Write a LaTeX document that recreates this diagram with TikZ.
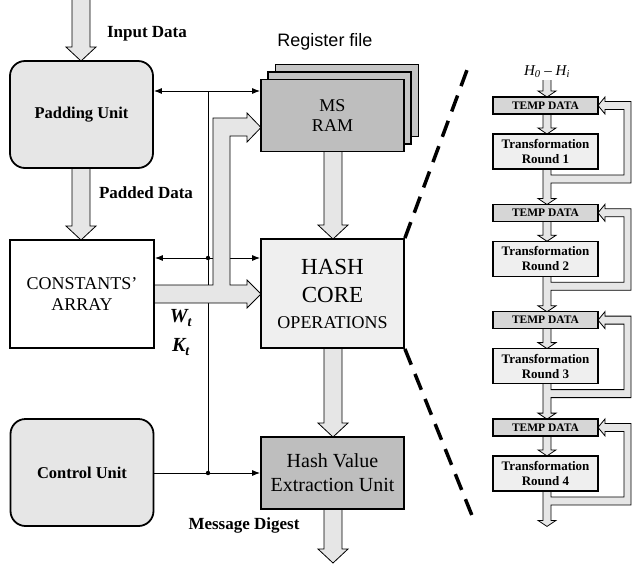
\documentclass[tikz,border=0pt]{standalone}
\usepackage{fontspec}
\setmainfont{Liberation Serif}
\newfontfamily\arialf{Liberation Sans}
\usetikzlibrary{arrows.meta}
\definecolor{lightfill}{HTML}{E6E6E6}
\definecolor{hashfill}{HTML}{EFEFEF}
\definecolor{darkfill}{HTML}{BEBEBE}
\definecolor{tempfill}{HTML}{D6D6D6}
\pgfdeclarelayer{bg}
\pgfsetlayers{bg,main}
\newcommand\vblock[6]{% x, ystart, ytip, half shaft, half head, head length
  \filldraw[blk] (#1-#4,#2) -- (#1-#4,#3-#6) -- (#1-#5,#3-#6) -- (#1,#3) -- (#1+#5,#3-#6) -- (#1+#4,#3-#6) -- (#1+#4,#2);}
\begin{document}
\begin{tikzpicture}[x=1pt,y=-1pt,
  box/.style={draw,line width=1.8pt,inner sep=0pt,align=center},
  rbox/.style={box,rounded corners=15pt,fill=lightfill,minimum width=143pt,minimum height=107pt,font=\bfseries\fontsize{16.5}{18}\selectfont},
  blk/.style={draw=black,fill=lightfill,line width=0.8pt,line join=miter},
  thin/.style={line width=0.9pt},
  tip/.style={-{Latex[length=8pt,width=6pt]}},
  lbl/.style={font=\bfseries\fontsize{17}{18}\selectfont,inner sep=0pt},
  tbox/.style={box,line width=1.6pt,fill=tempfill,minimum width=105pt,minimum height=17pt,font=\bfseries\fontsize{11.5}{12}\selectfont},
  trbox/.style={box,line width=1.6pt,fill=hashfill,minimum width=105pt,minimum height=35pt,font=\bfseries\fontsize{13}{15}\selectfont},
  dashline/.style={line width=3.5pt,dash pattern=on 17pt off 10pt}]
\useasboundingbox (0,0) rectangle (632,563);

% ---- left part boxes ----
\node[rbox] (pad) at (81.5,114.5) {Padding Unit};
\node[box,fill=white,minimum width=144pt,minimum height=108pt,font=\fontsize{18}{21}\selectfont] (const) at (82,294) {CONSTANTS'\\ARRAY};
\node[rbox] (ctrl) at (82,472.5) {Control Unit};

\node[box,fill=darkfill!90!white,minimum width=143pt,minimum height=72pt] (ram3) at (347,100.5) {};
\node[box,fill=darkfill!90!white,minimum width=143pt,minimum height=72pt] (ram2) at (339.5,108) {};
\node[box,fill=darkfill,minimum width=143pt,minimum height=72pt,font=\fontsize{18}{20}\selectfont] (ram) at (332.5,115.5) {MS\\RAM};
\node[box,fill=hashfill,minimum width=143pt,minimum height=109pt,font=\fontsize{23}{28}\selectfont] (hash) at (332.5,293.5)
  {HASH\\CORE\\[-2pt]{\fontsize{18}{20}\selectfont OPERATIONS}};
\node[box,fill=darkfill,minimum width=143pt,minimum height=72pt,font=\fontsize{20}{24}\selectfont] (hve) at (332.5,473) {Hash Value\\Extraction Unit};

% ---- labels ----
\node[lbl] (lin) at (147,34) {Input Data};
\node[lbl] (lpad) at (146,193) {Padded Data};
\node[lbl] (lmd) at (244,525) {Message Digest};
\node[inner sep=0pt,font=\arialf\fontsize{18}{20}\selectfont] (lreg) at (325,42) {Register file};
\node[inner sep=0pt,font=\bfseries\itshape\fontsize{20}{22}\selectfont] (lw) at (181,318) {W\textsubscript{t}};
\node[inner sep=0pt,font=\bfseries\itshape\fontsize{20}{22}\selectfont] (lk) at (181,347) {K\textsubscript{t}};

% ---- thin connectors and block arrows (behind boxes) ----
\coordinate (j1) at (208,91);
\coordinate (j2) at (208,258);
\coordinate (j3) at (208,473);
\begin{pgfonlayer}{bg}
\draw[thin,tip] (j1) -- (pad.east |- j1);
\draw[thin,tip] (j1) -- (ram.west |- j1);
\draw[thin] (j1) -- (j3);
\draw[thin,tip] (j2) -- (const.east |- j2);
\draw[thin,tip] (j2) -- (hash.west |- j2);
\draw[thin,tip] (ctrl.east |- j3) -- (hve.west |- j3);

% T-shaped wide arrow from constants
\filldraw[blk] (154,285) -- (213,285) -- (213,118) -- (247,118) -- (247,113) -- (261,127.5)
  -- (247,142) -- (247,136) -- (230,136) -- (230,285) -- (247,285) -- (247,280) -- (261,294)
  -- (247,308) -- (247,303) -- (154,303);

% vertical block arrows
\vblock{81}{-3}{61}{9}{15}{14}
\vblock{81}{168}{240}{9}{15}{14}
\vblock{333}{151}{239}{9}{15}{14}
\vblock{333}{348}{437}{9}{15}{14}
\vblock{333}{509}{563}{9}{15}{14}

% right panel arrows
\vblock{547}{80}{97}{4}{9}{6}
\foreach \i in {1,...,4}{
  \pgfmathsetmacro\T{97+107.3*(\i-1)}
  \pgfmathsetmacro\B{\T+72}
  \pgfmathsetmacro\C{\T+8.5}
  \pgfmathsetmacro\P{\B+35.5}
  \vblock{547}{\T+17}{\T+37}{4}{9}{6}
  \filldraw[blk] (543,\B) -- (543,\P-6) -- (538,\P-6) -- (547,\P) -- (556,\P-6) -- (551,\P-6)
    -- (551,\B+14) -- (631,\B+14) -- (631,\C-4) -- (605,\C-4) -- (605,\C-8.5) -- (598,\C)
    -- (605,\C+8.5) -- (605,\C+4) -- (624,\C+4) -- (624,\B+6) -- (551,\B+6) -- (551,\B);
}
\end{pgfonlayer}
\fill (j2) circle (2.2pt);
\fill (j3) circle (2.2pt);

% ---- right panel boxes ----
\node[inner sep=0pt,font=\itshape\fontsize{15}{17}\selectfont] (lh) at (547,72) {H\textsubscript{0} – H\textsubscript{i}};
\foreach \i in {1,...,4}{
  \pgfmathsetmacro\T{97+107.3*(\i-1)}
  \node[tbox] (temp\i) at (545.5,\T+8.5) {TEMP DATA};
  \node[trbox] (tr\i) at (545.5,\T+54.5) {Transformation\\Round \i};
}

% ---- dashed zoom lines ----
\coordinate (d1) at (467,70);
\coordinate (d2) at (473,518);
\draw[dashline] (hash.north east) -- (d1);
\draw[dashline] (hash.south east) -- (d2);
\end{tikzpicture}
\end{document}
